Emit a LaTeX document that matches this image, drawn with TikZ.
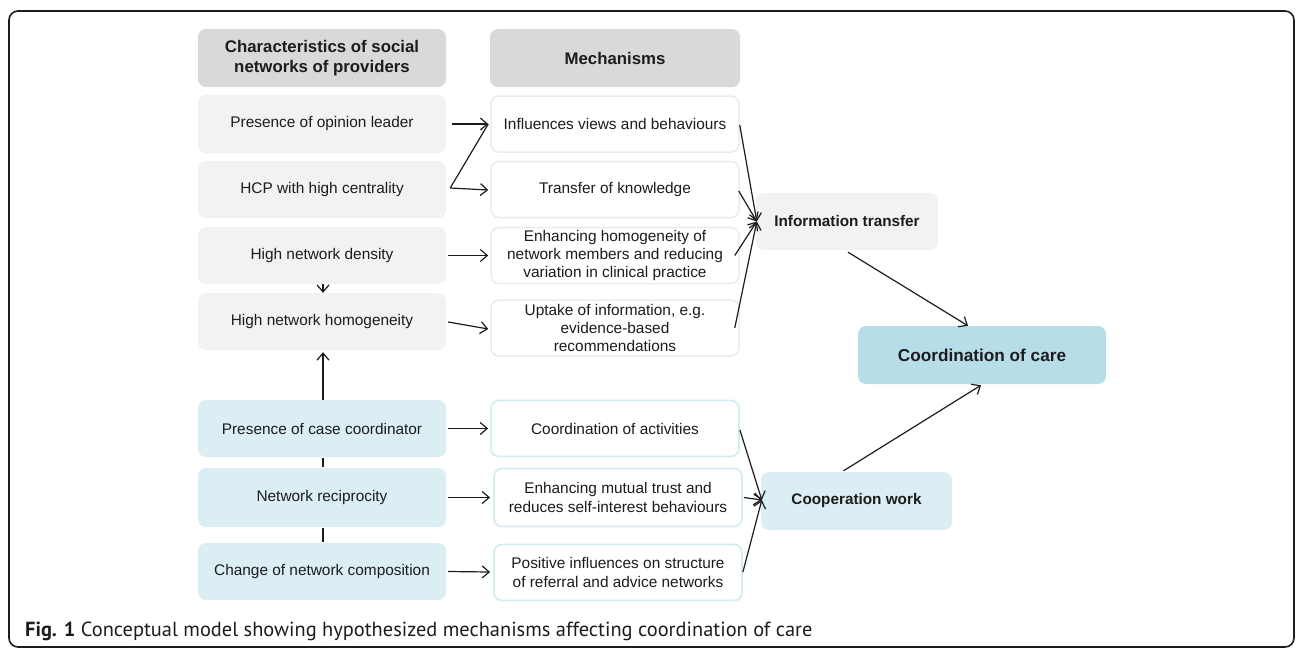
\documentclass[tikz,border=0pt]{standalone}
\usepackage{fontspec}
\setmainfont{Liberation Sans}
\newfontfamily\capfont{PT Sans}
\usetikzlibrary{arrows.meta}
\definecolor{hdr}{HTML}{D9D9D9}
\definecolor{lgray}{HTML}{F2F2F2}
\definecolor{lblue}{HTML}{DAEEF3}
\definecolor{mblue}{HTML}{B7DEE8}
\definecolor{gborder}{HTML}{EBEBEB}
\definecolor{bborder}{HTML}{D5ECF3}
\definecolor{ink}{HTML}{1C1C1C}
\tikzset{
  base/.style={rounded corners=8pt, align=center, inner sep=2pt, text=ink,
    font=\fontsize{15.4}{18.3}\selectfont},
  hdrbox/.style={base, fill=hdr, minimum width=248pt, minimum height=58pt,
    font=\bfseries\fontsize{16.8}{20}\selectfont},
  grayleft/.style={base, fill=lgray, minimum width=248pt, minimum height=57pt},
  blueleft/.style={base, fill=lblue, minimum width=248pt, minimum height=57pt},
  graymid/.style={base, fill=white, draw=gborder, line width=1.5pt, minimum width=248pt, minimum height=56pt},
  bluemid/.style={base, fill=white, draw=bborder, line width=1.8pt, minimum width=248pt, minimum height=56pt},
  arr/.style={draw=ink, line width=1.2pt, -{Straight Barb[length=7pt,width=12pt]}},
  plain/.style={draw=ink, line width=1.2pt}
}
\begin{document}
\begin{tikzpicture}[x=1pt,y=-1pt]
\useasboundingbox (0,0) rectangle (1296,649);
\draw[line width=1.6pt, rounded corners=9pt, draw=ink] (9,11) rectangle (1294,647);

% headers
\node[hdrbox] (h1) at (322,58) {Characteristics of social\\networks of providers};
\node[hdrbox, minimum width=250pt] (h2) at (615,58) {Mechanisms};

% left column
\node[grayleft, minimum height=58pt] (op) at (322,124) {Presence of opinion leader};
\node[grayleft] (hcp) at (322,189.5) {HCP with high centrality};
\node[grayleft] (dens) at (322,255.5) {High network density};
\node[grayleft] (hom) at (322,321.5) {High network homogeneity};
\node[blueleft] (case) at (322,428.5) {Presence of case coordinator};
\node[blueleft, minimum height=59pt] (rec) at (322,497.5) {Network reciprocity};
\node[blueleft] (chg) at (322,571.5) {Change of network composition};

% middle column
\node[graymid] (inf) at (615,124) {Influences views and behaviours};
\node[graymid] (tok) at (615,189.5) {Transfer of knowledge};
\node[graymid] (enh) at (615,255.5) {Enhancing homogeneity of\\network members and reducing\\variation in clinical practice};
\node[graymid] (upt) at (615,328) {Uptake of information, e.g.\\evidence-based\\recommendations};
\node[bluemid] (act) at (615,428.5) {Coordination of activities};
\node[bluemid, minimum height=58pt] (tru) at (618,497.5) {Enhancing mutual trust and\\reduces self-interest behaviours};
\node[bluemid] (pos) at (618,572.5) {Positive influences on structure\\of referral and advice networks};

% right column
\node[base, fill=lgray, minimum width=182pt, minimum height=57pt,
  font=\bfseries\fontsize{15.3}{18}\selectfont] (info) at (847,221.5) {Information transfer};
\node[base, fill=mblue, minimum width=248pt, minimum height=58pt,
  font=\bfseries\fontsize{17.2}{20}\selectfont] (cc) at (982,355) {Coordination of care};
\node[base, fill=lblue, minimum width=191pt, minimum height=58pt,
  font=\bfseries\fontsize{15.3}{18}\selectfont] (coop) at (856.5,501) {Cooperation work};

% left -> middle
\draw[arr] ([xshift=6pt]op.east) -- ([xshift=-2pt]inf.west);
\coordinate (hs) at ([xshift=4pt,yshift=1.5pt]hcp.east);
\draw[plain] (hs) -- ([xshift=-2pt]inf.west);
\draw[arr] (hs) -- ([xshift=-2pt,yshift=-0.5pt]tok.west);
\draw[arr] ([xshift=2pt]dens.east) -- ([xshift=-2pt]enh.west);
\draw[arr] ([xshift=2pt,yshift=-0.5pt]hom.east) -- ([xshift=-2pt,yshift=-1pt]upt.west);
\draw[arr] ([xshift=1pt]dens.south) -- ([xshift=1pt]hom.north);
\draw[arr] ([xshift=1pt]case.north) -- ([xshift=1pt,yshift=-2pt]hom.south);
\draw[plain] ([xshift=1pt,yshift=-1pt]case.south) -- ([xshift=1pt,yshift=1pt]rec.north);
\draw[plain] ([xshift=1pt,yshift=-1pt]rec.south) -- ([xshift=1pt,yshift=1pt]chg.north);
\draw[arr] ([xshift=2pt]case.east) -- ([xshift=-2pt]act.west);
\draw[arr] ([xshift=2pt]rec.east) -- ([xshift=-3pt]tru.west);
\draw[arr] ([xshift=2pt]chg.east) -- ([xshift=-3pt,yshift=0.5pt]pos.west);

% middle -> right
\coordinate (ie) at ([xshift=1pt]info.west);
\draw[arr] ([yshift=-1pt]inf.east) -- (ie);
\draw[arr] ([xshift=-1pt,yshift=-1.5pt]tok.east) -- (ie);
\draw[arr] ([xshift=-5pt]enh.east) -- (ie);
\draw[arr] ([xshift=-5pt]upt.east) -- (ie);
\coordinate (ce) at ([xshift=1pt,yshift=1pt]coop.west);
\draw[arr] ([yshift=-1.5pt]act.east) -- (ce);
\draw[arr] ([xshift=1pt]tru.east) -- (ce);
\draw[arr] ([yshift=0.5pt]pos.east) -- (ce);
\draw[arr] ([xshift=1pt,yshift=-2pt]info.south) -- ([xshift=-14pt]cc.north);
\draw[arr] ([xshift=-13pt,yshift=1pt]coop.north) -- ([xshift=-1pt,yshift=-1pt]cc.south);

% caption
\node[anchor=base west, inner sep=0pt, text=ink, font=\capfont\fontsize{20.4}{24}\selectfont] (cap) at (25,636)
  {\textbf{Fig. 1} Conceptual model showing hypothesized mechanisms affecting coordination of care};
\end{tikzpicture}
\end{document}
